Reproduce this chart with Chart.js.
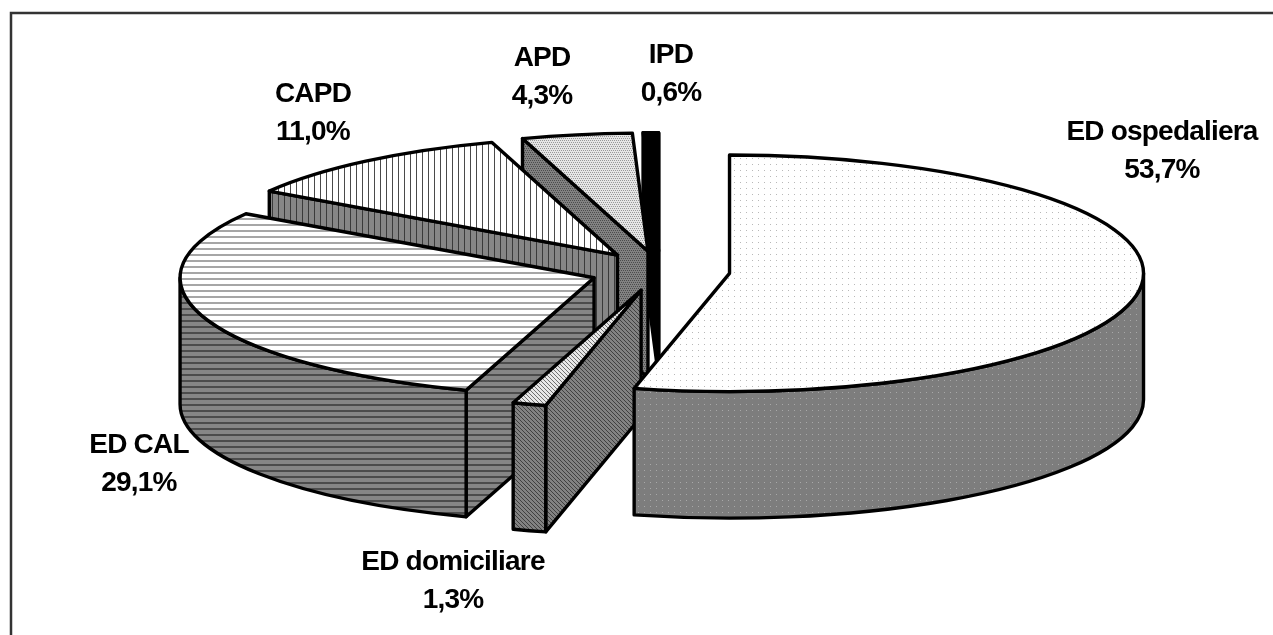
<!DOCTYPE html>
<html>
<head>
<meta charset="utf-8">
<title>Distribuzione modalità dialitica</title>
<script src="https://cdn.jsdelivr.net/npm/chart.js@4"></script>
<style>
    html, body { margin: 0; padding: 0; background: #fff; overflow: hidden; }
    canvas { display: block; }
</style>
</head>
<body>
<canvas id="pie3d" width="1273" height="635"></canvas>
<script>
// Values
const categories = ['ED ospedaliera', 'ED domiciliare', 'ED CAL', 'CAPD', 'APD', 'IPD'];
const shares = [53.7, 1.3, 29.1, 11.0, 4.3, 0.6];

// Label centres (first line), same order as categories
const labelX = [1162, 453, 139, 313, 542, 671];
const labelY = [132, 562, 445, 94, 58, 55];

const lineGap = 38;
const squash = 0.2857;   // ellipse height / width
const depth = 126.5;     // thickness of the pie
const edge = 3.4;

// Small tile used as a fill pattern
function makePattern(size, bg, fg, cells) {
    const tile = document.createElement('canvas');
    tile.width = size;
    tile.height = size;
    const g = tile.getContext('2d');
    g.fillStyle = bg;
    g.fillRect(0, 0, size, size);
    g.fillStyle = fg;
    cells.forEach(c => g.fillRect(c[0], c[1], c[2], c[3]));
    return g.createPattern(tile, 'repeat');
}

const sparseDots = [[2, 2, 1, 1]];
const hLine = [[0, 2, 6, 2]];
const vLine = [[2, 0, 1, 6]];
const fineDots = [[0, 0, 1, 1], [2, 0, 1, 1], [1, 2, 1, 1], [3, 2, 1, 1]];
const diagonal = [[0, 0, 1, 1], [1, 1, 1, 1], [2, 2, 1, 1], [3, 3, 1, 1]];

const topFills = [
    makePattern(6, '#ffffff', '#b8b8b8', sparseDots),
    makePattern(4, '#e8e8e8', '#707070', diagonal),
    makePattern(6, '#ffffff', '#a6a6a6', hLine),
    makePattern(6, '#ffffff', '#4a4a4a', vLine),
    makePattern(4, '#e6e6e6', '#989898', fineDots),
    '#000000'
];
const wallFills = [
    makePattern(6, '#7d7d7d', '#a8a8a8', sparseDots),
    makePattern(4, '#828282', '#404040', diagonal),
    makePattern(6, '#868686', '#4c4c4c', hLine),
    makePattern(6, '#868686', '#3a3a3a', vLine),
    makePattern(4, '#828282', '#4c4c4c', fineDots),
    '#000000'
];

function paintShape(ctx, fill) {
    ctx.fillStyle = fill;
    ctx.fill();
    ctx.strokeStyle = '#000';
    ctx.lineWidth = edge;
    ctx.lineJoin = 'round';
    ctx.stroke();
}

// Flat side of a slice, running from the centre to the rim at the given angle
function paintRadialWall(ctx, cx, cy, r, angle, fill) {
    const rimX = cx + Math.cos(angle) * r;
    const rimY = cy + Math.sin(angle) * r * squash;
    ctx.beginPath();
    ctx.moveTo(cx, cy);
    ctx.lineTo(rimX, rimY);
    ctx.lineTo(rimX, rimY + depth);
    ctx.lineTo(cx, cy + depth);
    ctx.closePath();
    paintShape(ctx, fill);
}

function paintSlice(ctx, arc, index) {
    const r = arc.outerRadius;
    const start = arc.startAngle;
    const end = arc.endAngle;
    const mid = (start + end) / 2;
    // ArcElement moves an exploded slice by offset / 4
    const shift = arc.options.offset / 4;
    const cx = arc.x + Math.cos(mid) * shift;
    const cy = arc.y + Math.sin(mid) * shift * squash;
    const wall = wallFills[index];

    // only the sides turned towards the viewer
    if (Math.cos(start) < 0) paintRadialWall(ctx, cx, cy, r, start, wall);
    if (Math.cos(end) > 0) paintRadialWall(ctx, cx, cy, r, end, wall);

    // rim, only the part on the lower half of the ellipse
    const rimFrom = Math.max(start, 0);
    const rimTo = Math.min(end, Math.PI);
    if (rimFrom < rimTo) {
        ctx.beginPath();
        ctx.ellipse(cx, cy, r, r * squash, 0, rimFrom, rimTo);
        ctx.ellipse(cx, cy + depth, r, r * squash, 0, rimTo, rimFrom, true);
        ctx.closePath();
        paintShape(ctx, wall);
    }

    // top face
    ctx.beginPath();
    ctx.moveTo(cx, cy);
    ctx.ellipse(cx, cy, r, r * squash, 0, start, end);
    ctx.closePath();
    paintShape(ctx, arc.options.backgroundColor);
}

const pie3dPlugin = {
    id: 'pie3d',
    beforeDraw(chart) {
        // frame: only the top and left edges show in the window
        const ctx = chart.ctx;
        ctx.save();
        ctx.strokeStyle = '#333';
        ctx.lineWidth = 2.5;
        ctx.beginPath();
        ctx.moveTo(11, 635);
        ctx.lineTo(11, 13);
        ctx.lineTo(1273, 13);
        ctx.stroke();
        ctx.restore();
    },
    beforeDatasetsDraw(chart) {
        const ctx = chart.ctx;
        const arcs = chart.getDatasetMeta(0).data;
        ctx.save();
        // back slices first, the front ones cover them
        for (let i = arcs.length - 1; i >= 0; i--) {
            paintSlice(ctx, arcs[i], i);
        }
        ctx.restore();
        return false;
    },
    afterDraw(chart) {
        const ctx = chart.ctx;
        ctx.save();
        ctx.font = 'bold 28px "Liberation Sans", Arial, sans-serif';
        ctx.letterSpacing = '-0.8px';
        ctx.fillStyle = '#000';
        ctx.textAlign = 'center';
        ctx.textBaseline = 'middle';
        categories.forEach((name, i) => {
            const value = shares[i].toFixed(1).replace('.', ',') + '%';
            ctx.fillText(name, labelX[i], labelY[i]);
            ctx.fillText(value, labelX[i], labelY[i] + lineGap);
        });
        ctx.restore();
    }
};

new Chart(document.getElementById('pie3d').getContext('2d'), {
    type: 'pie',
    data: {
        labels: categories,
        datasets: [{
            data: shares,
            backgroundColor: topFills,
            borderColor: '#000',
            borderWidth: edge,
            offset: 280,
            hoverOffset: 0
        }]
    },
    options: {
        responsive: false,
        animation: false,
        radius: 414,
        layout: { padding: { left: 47, bottom: 93 } },
        plugins: {
            legend: { display: false },
            tooltip: { enabled: false }
        }
    },
    plugins: [pie3dPlugin]
});
</script>
</body>
</html>
